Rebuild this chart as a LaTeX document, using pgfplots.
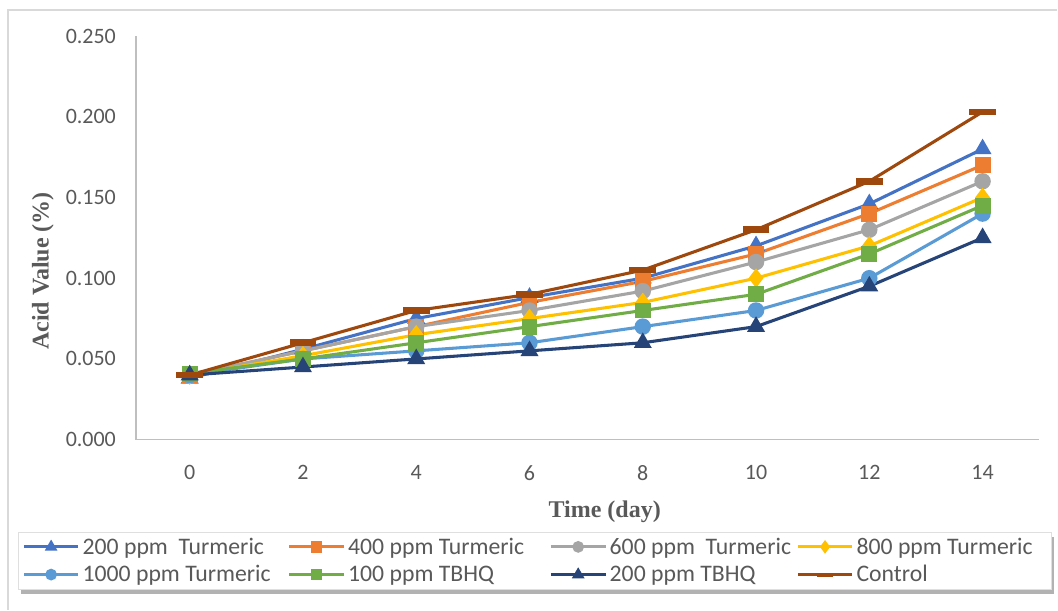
\documentclass[border=0pt]{standalone}
\usepackage{fontspec}
\setmainfont{Carlito}
\newfontfamily\serifbold{Liberation Serif}
\usepackage{pgfplots}
\pgfplotsset{compat=1.18}
\usetikzlibrary{backgrounds}
\definecolor{cA}{HTML}{4472C4}
\definecolor{cB}{HTML}{ED7D31}
\definecolor{cC}{HTML}{A5A5A5}
\definecolor{cD}{HTML}{FFC000}
\definecolor{cE}{HTML}{5B9BD5}
\definecolor{cF}{HTML}{70AD47}
\definecolor{cG}{HTML}{264478}
\definecolor{cH}{HTML}{9E480E}
\definecolor{txt}{HTML}{595959}
\definecolor{axl}{HTML}{BFBFBF}
\begin{document}
\begin{tikzpicture}
\path (0,0) rectangle (793.5pt,457.5pt);
\draw[color={rgb,255:red,217;green,217;blue,217}, line width=1.2pt] (6pt,0pt) -- (6pt,450pt) -- (793.5pt,450pt);
\begin{axis}[
  at={(102pt,127.5pt)}, anchor=south west,
  scale only axis, width=678pt, height=303pt,
  xmin=-0.95, xmax=15, ymin=0, ymax=0.25,
  xtick={0,2,4,6,8,10,12,14},
  ytick={0,0.05,0.1,0.15,0.2,0.25},
  yticklabel style={/pgf/number format/fixed, /pgf/number format/fixed zerofill, /pgf/number format/precision=3, xshift=-11.5pt},
  /pgf/number format/assume math mode=true,
  axis x line*=bottom, axis y line*=left,
  axis line style={axl, line width=1.2pt, -},
  major tick length=0pt,
  tick label style={font=\fontsize{16.5}{19}\selectfont, color=txt},
  xticklabel style={yshift=-16pt},
  xlabel={Time (day)}, ylabel={Acid Value (\%)},
  every axis x label/.style={at={(axis description cs:0.519,-0.178)}, anchor=center, font=\serifbold\bfseries\fontsize{18}{21}\selectfont, color=txt},
  every axis y label/.style={at={(axis description cs:-0.103,0.418)}, anchor=center, rotate=90, font=\serifbold\bfseries\fontsize{18}{21}\selectfont, color=txt},
  clip=false,
  every axis plot/.append style={line width=2.3pt},
  legend columns=4,
  legend cell align=left,
  legend image code/.code={\draw[mark repeat=2,mark phase=2,#1] plot coordinates {(0pt,0pt) (20.5pt,0pt) (41pt,0pt)};},
  legend image post style={mark size=3.2pt},
  legend style={name=leg, at={(axis description cs:-0.1305,-0.229)}, anchor=north west,
     draw=gray!25, fill=white,
     font=\fontsize{17.8}{19}\selectfont, text=txt,
     inner xsep=3pt, inner ysep=2pt, row sep=3pt,
     /tikz/every odd column/.append style={column sep=0pt}},
]
\addplot[color=cA, mark=triangle*, mark size=5.5pt] coordinates {(0,0.038) (2,0.056) (4,0.075) (6,0.088) (8,0.100) (10,0.120) (12,0.146) (14,0.180)};
\addlegendentry{\makebox[152pt][l]{200 ppm \ Turmeric}}
\addplot[color=cB, mark=square*, mark size=4.8pt] coordinates {(0,0.040) (2,0.055) (4,0.070) (6,0.085) (8,0.098) (10,0.115) (12,0.140) (14,0.170)};
\addlegendentry{\makebox[149pt][l]{400 ppm Turmeric}}
\addplot[color=cC, mark=*, mark size=5pt] coordinates {(0,0.040) (2,0.055) (4,0.070) (6,0.080) (8,0.092) (10,0.110) (12,0.130) (14,0.160)};
\addlegendentry{\makebox[138pt][l]{600 ppm \ Turmeric}}
\addplot[color=cD, mark=diamond*, mark size=5.5pt] coordinates {(0,0.040) (2,0.052) (4,0.065) (6,0.075) (8,0.085) (10,0.100) (12,0.120) (14,0.150)};
\addlegendentry{\makebox[141pt][l]{800 ppm Turmeric}}
\addplot[color=cE, mark=*, mark size=5pt] coordinates {(0,0.040) (2,0.050) (4,0.055) (6,0.060) (8,0.070) (10,0.080) (12,0.100) (14,0.140)};
\addlegendentry{\makebox[152pt][l]{1000 ppm Turmeric}}
\addplot[color=cF, mark=square*, mark size=4.8pt] coordinates {(0,0.041) (2,0.050) (4,0.060) (6,0.070) (8,0.080) (10,0.090) (12,0.115) (14,0.145)};
\addlegendentry{\makebox[149pt][l]{100 ppm TBHQ}}
\addplot[color=cG, mark=triangle*, mark size=5.5pt] coordinates {(0,0.040) (2,0.045) (4,0.050) (6,0.055) (8,0.060) (10,0.070) (12,0.095) (14,0.125)};
\addlegendentry{\makebox[138pt][l]{200 ppm TBHQ}}
\addplot[color=cH, mark=-, mark size=10pt, mark options={line width=5pt}, legend image post style={mark size=6pt, mark options={line width=3pt}}] coordinates {(0,0.040) (2,0.060) (4,0.080) (6,0.090) (8,0.105) (10,0.130) (12,0.160) (14,0.203)};
\addlegendentry{\makebox[141pt][l]{Control}}
\end{axis}
\begin{scope}[on background layer]
\fill[black, opacity=0.3] ([xshift=2pt,yshift=-3.5pt]leg.south west) rectangle ([xshift=2pt,yshift=-3.5pt]leg.north east);
\end{scope}
\end{tikzpicture}
\end{document}
